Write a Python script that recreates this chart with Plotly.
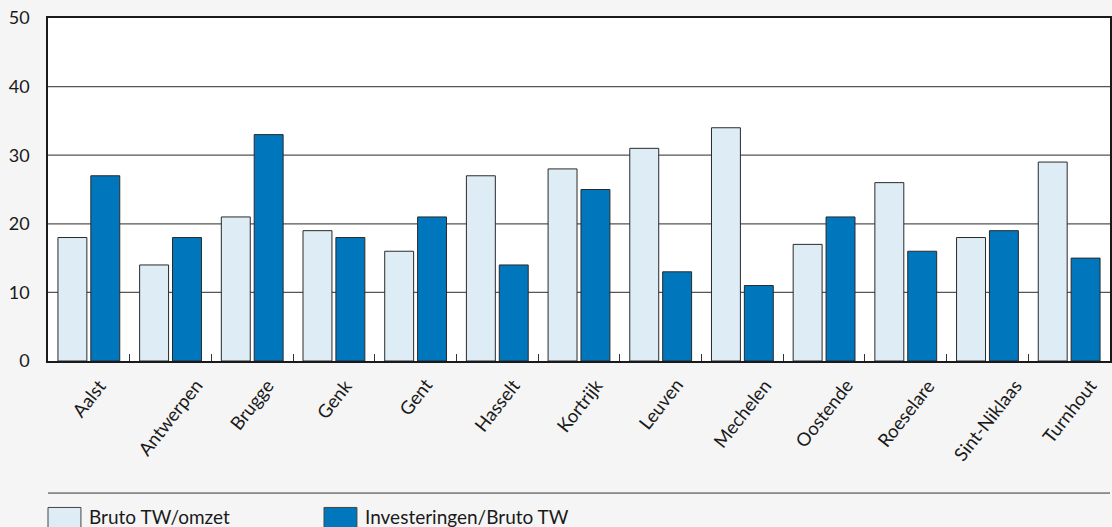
import plotly.graph_objects as go

categories = ["Aalst", "Antwerpen", "Brugge", "Genk", "Gent", "Hasselt", "Kortrijk",
              "Leuven", "Mechelen", "Oostende", "Roeselare", "Sint-Niklaas", "Turnhout"]
bruto_tw_omzet = [18, 14, 21, 19, 16, 27, 28, 31, 34, 17, 26, 18, 29]
investeringen_bruto_tw = [27, 18, 33, 18, 21, 14, 25, 13, 11, 21, 16, 19, 15]
series_names = ["Bruto TW/omzet", "Investeringen/Bruto TW"]
series_colors = ["#deecf6", "#0077bd"]
y_ticks = [0, 10, 20, 30, 40, 50]

FONT = "Lato"
TXT = "#1a1a1a"
fig = go.Figure()
for name, vals, col in zip(series_names, [bruto_tw_omzet, investeringen_bruto_tw], series_colors):
    fig.add_trace(go.Bar(x=categories, y=vals, name=name,
                         marker=dict(color=col, line=dict(color="#2a2a2a", width=1)),
                         showlegend=False))

# gridlines
for v in y_ticks[1:-1]:
    fig.add_shape(type="line", xref="paper", yref="y", x0=0, x1=1, y0=v, y1=v,
                  line=dict(color="#555555", width=1.2), layer="below")

# category labels, rotated around their centre
for c in categories:
    fig.add_annotation(x=c, xref="x", y=0, yref="paper", text=c, showarrow=False,
                       textangle=-52, xanchor="center", yanchor="top", yshift=-11,
                       font=dict(family=FONT, size=18.5, color=TXT))

# separator line above legend
fig.add_shape(type="line", xref="paper", yref="paper", x0=0, x1=1, y0=-0.385, y1=-0.385,
              line=dict(color="#333333", width=1))

# custom legend
leg_x = [0.0, 0.2599]
for name, col, lx in zip(series_names, series_colors, leg_x):
    fig.add_shape(type="rect", xref="paper", yref="paper",
                  x0=lx, x1=lx + 0.031, y0=-0.5, y1=-0.427,
                  fillcolor=col, line=dict(color="#444444", width=1))
    fig.add_annotation(xref="paper", yref="paper", x=lx + 0.0365, y=-0.452,
                       text=name, showarrow=False, xanchor="left", yanchor="middle",
                       font=dict(family=FONT, size=19, color=TXT))

fig.update_layout(
    width=1112, height=527,
    margin=dict(l=48, r=0, t=18, b=166),
    paper_bgcolor="#f5f5f5", plot_bgcolor="#ffffff",
    barmode="group", bargap=0.195, bargroupgap=0.12,
    font=dict(family=FONT, size=17, color=TXT),
    xaxis=dict(showline=True, linecolor="#1a1a1a", linewidth=1.5, mirror=True,
               ticks="inside", tickson="boundaries", ticklen=7, tickcolor="#333333",
               showticklabels=False),
    yaxis=dict(range=[0, 50], tickvals=y_ticks, showgrid=False, zeroline=False,
               showline=True, linecolor="#1a1a1a", linewidth=1.5, mirror=True,
               ticks="", tickfont=dict(family=FONT, size=18, color=TXT),
               ticklabelstandoff=13),
)

fig.write_html("out.html", config={"displayModeBar": False},
               post_script="document.body.style.margin='0';document.body.style.overflow='hidden';")
